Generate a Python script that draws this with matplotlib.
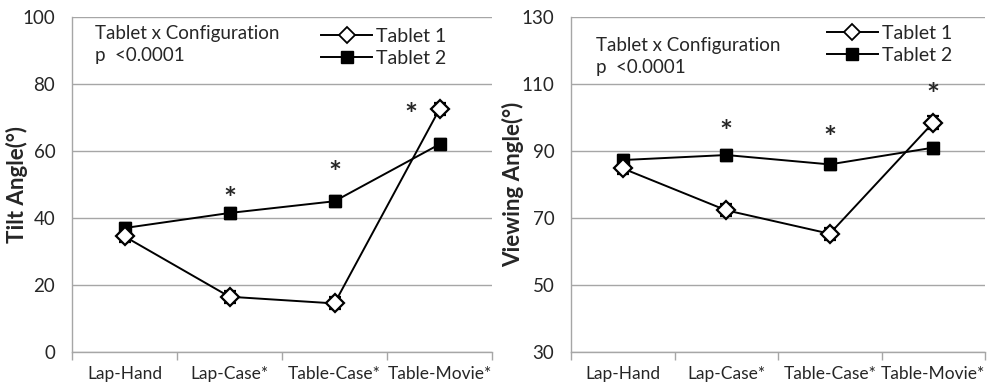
import matplotlib.pyplot as plt
from matplotlib.lines import Line2D
import numpy as np

plt.rcParams["font.family"] = ["Lato", "DejaVu Sans"]

configs = ["Lap-Hand", "Lap-Case*", "Table-Case*", "Table-Movie*"]

tilt_t1 = [34.5, 16.5, 14.5, 72.5]
tilt_t2 = [37.0, 41.5, 45.0, 62.0]
tilt_err_t1 = [1.8, 1.8, 1.8, 1.8]
tilt_err_t2 = [1.8, 1.8, 1.8, 1.8]
tilt_star_x = [1.0, 2.0, 2.73]
tilt_star_y = [48.0, 55.5, 73.0]

view_t1 = [84.8, 72.3, 65.3, 98.5]
view_t2 = [87.3, 88.8, 86.0, 91.0]
view_err_t1 = [1.8, 1.8, 1.8, 1.8]
view_err_t2 = [1.8, 1.8, 1.8, 1.8]
view_star_x = [1.0, 2.0, 3.0]
view_star_y = [97.8, 96.0, 109.0]

GRID = "#a6a6a6"
TXT = "#262626"


def draw_panel(ax, t1, t2, e1, e2, star_x, star_y, ylim, yticks, ylabel,
               ylabel_x, note_xy, leg_xy):
    x = np.arange(len(configs))
    ax.errorbar(x, t2, yerr=e2, color="black", lw=1.4, marker="s", ms=9,
                mfc="black", mec="black", capsize=4, elinewidth=1.3, zorder=3)
    ax.errorbar(x, t1, yerr=e1, color="black", lw=1.4, marker="D", ms=9.5,
                mfc="white", mec="black", mew=1.6, capsize=4, elinewidth=1.3,
                zorder=4)

    # significance markers; the asterisk glyph sits high, so nudge it down
    for sx, sy in zip(star_x, star_y):
        ax.annotate("*", (sx, sy), xytext=(0, -6), textcoords="offset points",
                    ha="center", va="center", fontsize=22, fontweight="bold",
                    color=TXT)

    ax.set_xlim(-0.5, len(configs) - 0.5)
    ax.set_ylim(*ylim)
    ax.set_yticks(yticks)
    ax.yaxis.grid(True, color=GRID, lw=1)
    ax.set_axisbelow(True)
    ax.tick_params(axis="y", length=0, labelsize=13.5, labelcolor=TXT, pad=12)

    # category boundaries get the tick marks, labels sit in between
    ax.set_xticks(np.arange(len(configs) + 1) - 0.5)
    ax.set_xticklabels([])
    ax.set_xticks(x, minor=True)
    ax.set_xticklabels(configs, minor=True)
    ax.tick_params(axis="x", which="major", length=6, color=GRID, width=1)
    ax.tick_params(axis="x", which="minor", length=0, labelsize=12.5,
                   labelcolor=TXT, pad=10)

    for side in ("top", "right"):
        ax.spines[side].set_visible(False)
    for side in ("left", "bottom"):
        ax.spines[side].set_color(GRID)
        ax.spines[side].set_linewidth(1)

    ax.set_ylabel(ylabel, fontsize=16, fontweight="bold", color=TXT,
                  va="center")
    ax.yaxis.set_label_coords(ylabel_x, 0.5)

    ax.text(note_xy[0], note_xy[1], "Tablet x Configuration\np  <0.0001",
            transform=ax.transAxes, ha="left", va="top", fontsize=13.5,
            color=TXT, linespacing=1.35)

    handles = [
        Line2D([], [], color="black", lw=1.4, marker="D", ms=8, mfc="white",
               mec="black", mew=1.3),
        Line2D([], [], color="black", lw=1.4, marker="s", ms=8, mfc="black",
               mec="black"),
    ]
    leg = ax.legend(handles, ["Tablet 1", "Tablet 2"], loc="upper left",
                    bbox_to_anchor=leg_xy, frameon=False, fontsize=14,
                    handlelength=2.6, handletextpad=0.2, labelspacing=0.25,
                    borderaxespad=0)
    for t in leg.get_texts():
        t.set_color(TXT)


fig = plt.figure(figsize=(9.88, 3.85), dpi=100)
ax1 = fig.add_axes([72 / 988, 33 / 385, 420 / 988, 335 / 385])
ax2 = fig.add_axes([571 / 988, 33 / 385, 414 / 988, 335 / 385])

draw_panel(ax1, tilt_t1, tilt_t2, tilt_err_t1, tilt_err_t2,
           tilt_star_x, tilt_star_y, (0, 100), [0, 20, 40, 60, 80, 100],
           "Tilt Angle(°)", -0.132, (0.055, 0.975), (0.575, 0.99))
draw_panel(ax2, view_t1, view_t2, view_err_t1, view_err_t2,
           view_star_x, view_star_y, (30, 130), [30, 50, 70, 90, 110, 130],
           "Viewing Angle(°)", -0.14, (0.06, 0.94), (0.6, 1.0))

fig.savefig("out.png", dpi=100)
